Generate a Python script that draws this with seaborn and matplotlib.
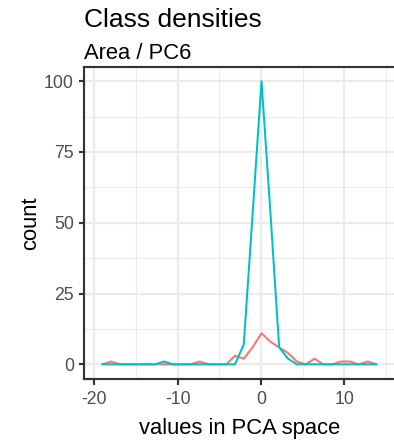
import matplotlib
matplotlib.use("Agg")
import matplotlib.pyplot as plt
import numpy as np
import pandas as pd
import seaborn as sns

# bin centres of the frequency polygon (values in PCA space)
bin_x = [-19.06, -18.00, -16.94, -15.87, -14.81, -13.75, -12.69, -11.63,
         -10.56, -9.50, -8.44, -7.38, -6.32, -5.25, -4.19, -3.13,
         -2.07, -1.01, 0.06, 1.12, 2.18, 3.24, 4.30, 5.37,
         6.43, 7.49, 8.55, 9.61, 10.68, 11.74, 12.80, 13.86]

count_a = [0, 1, 0, 0, 0, 0, 0, 0,
           0, 0, 0, 1, 0, 0, 0, 3,
           2, 6, 11, 8, 6, 4, 1, 0,
           2, 0, 0, 1, 1, 0, 1, 0]

count_b = [0, 0, 0, 0, 0, 0, 0, 1,
           0, 0, 0, 0, 0, 0, 0, 0,
           7, 53, 100, 54, 6, 2, 0, 0,
           0, 0, 0, 0, 0, 0, 0, 0]

classes = ["a", "b"]
colors = ["#F8766D", "#00BFC4"]

df = pd.concat([
    pd.DataFrame({"x": bin_x, "count": count_a, "cls": classes[0]}),
    pd.DataFrame({"x": bin_x, "count": count_b, "cls": classes[1]}),
])

sns.set_style("white")
plt.rcParams["font.family"] = ["Liberation Sans", "DejaVu Sans"]
plt.rcParams["axes.unicode_minus"] = False

W, H, DPI = 394, 443, 144
fig = plt.figure(figsize=(W / DPI, H / DPI), dpi=DPI)
left, right, top, bottom = 83.7, 395.0, 67.0, 378.5
ax = fig.add_axes([left / W, 1 - bottom / H, (right - left) / W, (bottom - top) / H])

sns.lineplot(data=df, x="x", y="count", hue="cls", palette=colors,
             estimator=None, sort=False, linewidth=1.0, legend=False, ax=ax)

ax.set_xlim(-21.29, 16.09)
ax.set_ylim(-5, 105)
ax.set_xticks([-20, -10, 0, 10])
ax.set_xticks([-15, -5, 5, 15], minor=True)
ax.set_yticks([0, 25, 50, 75, 100])
ax.set_yticks([12.5, 37.5, 62.5, 87.5], minor=True)
ax.grid(which="major", color="#EBEBEB", linewidth=1.07)
ax.grid(which="minor", color="#EBEBEB", linewidth=0.53)
ax.set_axisbelow(True)

for sp in ax.spines.values():
    sp.set_color("#333333")
    sp.set_linewidth(1.07)
ax.spines["right"].set_visible(False)

ax.tick_params(which="major", length=2.75, width=1.07, color="#333333",
               pad=2.2, labelsize=8.8, labelcolor="#4D4D4D",
               bottom=True, left=True)
ax.tick_params(axis="x", which="major", pad=3.5)
ax.tick_params(which="minor", length=0)

ax.set_xlabel("")
ax.set_ylabel("")
fig.text((left + right) / 2 / W, 1 - 434 / H, "values in PCA space",
         ha="center", va="baseline", fontsize=11, color="black")
fig.text(31 / W, 1 - (top + bottom) / 2 / H, "count", rotation=90,
         ha="center", va="center", fontsize=11, color="black")

fig.text(left / W, 1 - 27 / H, "Class densities", ha="left", va="baseline",
         fontsize=13.2, color="black")
fig.text(left / W, 1 - 59 / H, "Area / PC6", ha="left", va="baseline",
         fontsize=11, color="black")

fig.savefig("out.png", dpi=DPI)
